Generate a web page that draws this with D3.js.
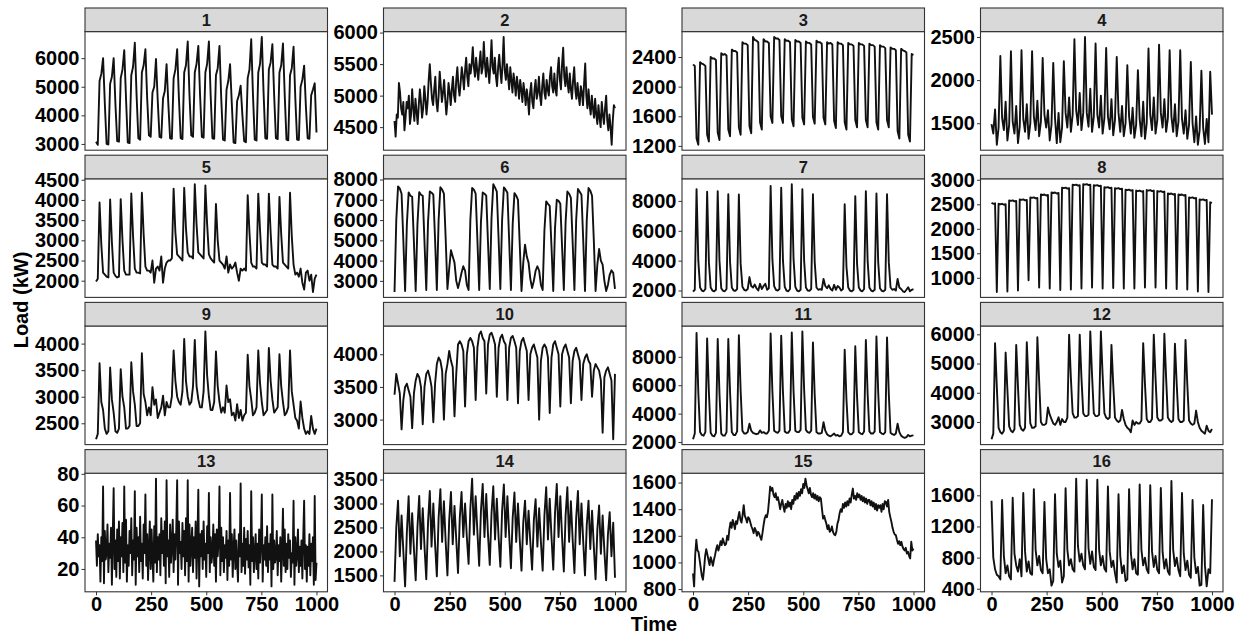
<!DOCTYPE html>
<html>
<head>
<meta charset="utf-8">
<script src="https://cdn.jsdelivr.net/npm/d3@7"></script>
<style>
  body { margin: 0; background: #fff; }
  text { font-family: "Liberation Sans", Arial, sans-serif; }
</style>
</head>
<body>
<svg id="chart" width="1238" height="635"></svg>
<script>
// facet labels and tick labels
const panelIds = ["1", "2", "3", "4", "5", "6", "7", "8", "9", "10", "11", "12", "13", "14", "15", "16"];
const xTicks = [0, 250, 500, 750, 1000];
const yTicks = [
    [3000, 4000, 5000, 6000],
    [4500, 5000, 5500, 6000],
    [1200, 1600, 2000, 2400],
    [1500, 2000, 2500],
    [2000, 2500, 3000, 3500, 4000, 4500],
    [3000, 4000, 5000, 6000, 7000, 8000],
    [2000, 4000, 6000, 8000],
    [1000, 1500, 2000, 2500, 3000],
    [2500, 3000, 3500, 4000],
    [3000, 3500, 4000],
    [2000, 4000, 6000, 8000],
    [3000, 4000, 5000, 6000],
    [20, 40, 60, 80],
    [1500, 2000, 2500, 3000, 3500],
    [800, 1000, 1200, 1400, 1600],
    [400, 800, 1200, 1600]
];

// time between two readings in each series
const sampleStep = [8, 5, 8, 8, 8, 8, 8, 8, 8, 8, 8, 8, 4, 8, 5, 8];

// load readings (kW)
const load1 = [
    3080, 2970, 5200, 5450, 6000, 4400,  3000, 2980, 5100, 5350, 6000, 4400,
    3100, 3080, 5300, 5600, 6280, 4600,  3050, 3030, 5400, 5700, 6540, 4700,
    3200, 3150, 5500, 5750, 6310, 4600,  3300, 3250, 4800, 5000, 5970, 4500,
    3250, 3220, 4600, 4850, 5790, 4400,  3200, 3180, 5300, 5600, 6310, 4600,
    3200, 3170, 5500, 5750, 6580, 4700,  3300, 3250, 5500, 5800, 6430, 4700,
    3250, 3220, 5500, 5800, 6580, 4700,  3200, 3180, 5400, 5650, 6430, 4600,
    3150, 3120, 4900, 5200, 5790, 4400,  3050, 3030, 4500, 4700, 5040, 4000,
    3100, 3060, 5300, 5600, 6660, 4700,  3150, 3120, 5500, 5800, 6740, 4800,
    3200, 3180, 5600, 5850, 6490, 4700,  3200, 3170, 5500, 5750, 6510, 4700,
    3150, 3130, 5400, 5650, 6400, 4600,  3150, 3140, 5000, 5250, 5740, 4300,
    3200, 3180, 4700, 4900, 5120, 3400
];
const load2 = [
    4600, 4350, 4700, 4650, 5200, 5050, 4800, 4700, 4900, 4450,
    4650, 4900, 4800, 5000, 4550, 4700, 5100, 4800, 4600, 4950,
    4750, 4550, 4850, 5100, 4900, 4650, 4800, 5150, 4950, 4700,
    4900, 5250, 5500, 5200, 4950, 4850, 5100, 5300, 4900, 4750,
    5000, 5380, 5150, 4900, 5050, 5250, 4950, 4700, 4900, 5200,
    5050, 4850, 5100, 5300, 5000, 4900, 5250, 5450, 5150, 5000,
    5200, 5450, 5300, 5100, 5400, 5600, 5300, 5150, 5500, 5350,
    5500, 5770, 5450, 5300, 5600, 5400, 5250, 5500, 5700, 5350,
    5450, 5850, 5500, 5300, 5600, 5400, 5200, 5500, 5880, 5450,
    5350, 5600, 5300, 5150, 5450, 5650, 5400, 5200, 5500, 5930,
    5400, 5250, 5500, 5300, 5100, 5450, 5250, 5050, 5350, 5200,
    5000, 5300, 5150, 4950, 5250, 5100, 4900, 5200, 5050, 4850,
    5100, 4950, 4700, 5050, 5200, 4900, 4800, 5100, 5250, 4950,
    5050, 5300, 5000, 4850, 5150, 5350, 5050, 4950, 5250, 5100,
    5000, 5300, 5450, 5150, 5050, 5350, 5100, 5000, 5400, 5600,
    5250, 5100, 5500, 5760, 5300, 5150, 5450, 5200, 5050, 5350,
    5100, 4950, 5250, 5450, 5100, 4950, 5200, 5000, 4850, 5150,
    5050, 4850, 5200, 5510, 5000, 4800, 5100, 4850, 4700, 5000,
    4800, 4650, 4950, 4700, 4550, 4850, 4650, 4500, 4900, 4700,
    4550, 4800, 5000, 4600, 4450, 4700, 4500, 4220, 4600, 4850,
    4800
];
const load3 = [
    2300, 2280, 1300, 1215, 2330, 2310,  2300, 2280, 1350, 1260, 2400, 2380,
    2380, 2360, 1380, 1280, 2450, 2430,  2440, 2420, 1420, 1330, 2500, 2480,
    2480, 2460, 1450, 1350, 2600, 2580,  2580, 2560, 1470, 1370, 2670, 2630,
    2620, 2600, 1520, 1420, 2640, 2610,  2610, 2590, 1600, 1510, 2670, 2650,
    2650, 2630, 1600, 1510, 2640, 2620,  2620, 2600, 1560, 1465, 2630, 2610,
    2610, 2590, 1580, 1490, 2610, 2590,  2590, 2570, 1590, 1500, 2620, 2600,
    2600, 2580, 1580, 1490, 2600, 2580,  2590, 2570, 1540, 1440, 2600, 2580,
    2580, 2560, 1520, 1420, 2590, 2570,  2570, 2550, 1550, 1450, 2590, 2570,
    2570, 2550, 1550, 1450, 2580, 2560,  2560, 2540, 1520, 1420, 2560, 2540,
    2540, 2520, 1550, 1450, 2530, 2510,  2510, 2490, 1400, 1300, 2510, 2490,
    2480, 2460, 1350, 1260, 2440, 2430
];
const load4 = [
    1490, 1380, 1660, 1250, 1450, 2280,  1560, 1420, 1750, 1300, 1480, 2335,
    1520, 1380, 1700, 1270, 1460, 2347,  1550, 1400, 1720, 1320, 1500, 2335,
    1580, 1420, 1760, 1350, 1520, 2258,  1600, 1450, 1650, 1300, 1480, 2200,
    1560, 1270, 1620, 1280, 1450, 2220,  1620, 1450, 1800, 1400, 1600, 2474,
    1650, 1480, 1850, 1420, 1620, 2500,  1620, 1460, 1900, 1400, 1580, 2424,
    1600, 1450, 1820, 1380, 1560, 2374,  1580, 1430, 1780, 1360, 1540, 2270,
    1620, 1400, 1700, 1350, 1500, 2173,  1580, 1380, 1680, 1330, 1480, 2116,
    1550, 1350, 1750, 1320, 1500, 2366,  1600, 1420, 1800, 1380, 1540, 2412,
    1620, 1450, 1780, 1400, 1560, 2347,  1580, 1400, 1720, 1350, 1520, 2347,
    1550, 1380, 1650, 1320, 1480, 2212,  1500, 1280, 1580, 1250, 1420, 2108,
    1450, 1260, 1550, 1280, 2097, 1600
];
const load5 = [
    1980, 2050, 3935, 2900, 2200, 2150,  2100, 2080, 4010, 2950, 2200, 2120,
    2080, 2100, 4020, 3000, 2250, 2150,  2150, 2150, 4160, 3100, 2300, 2200,
    2200, 2180, 4180, 3150, 2350, 2250,  2250, 2200, 2500, 1950, 2300, 2350,
    2250, 2600, 1950, 2300, 2450, 2500,  2500, 2550, 4280, 3200, 2650, 2600,
    2550, 2500, 4300, 3300, 2700, 2600,  2600, 2550, 4390, 3400, 2700, 2650,
    2600, 2550, 4360, 3400, 2650, 2550,  2500, 2450, 3900, 3000, 2500, 2450,
    2400, 2300, 2600, 2200, 2400, 2300,  2350, 2450, 2200, 2000, 2300, 2250,
    2300, 2250, 4115, 3200, 2450, 2350,  2350, 2300, 4157, 3250, 2450, 2400,
    2400, 2350, 4157, 3200, 2400, 2350,  2350, 2300, 4075, 3150, 2450, 2400,
    2350, 2300, 4180, 3100, 2400, 2150,  2200, 2100, 2300, 1950, 1780, 2200,
    2250, 2000, 2150, 1720, 2050, 2150
];
const load6 = [
    2450, 6000, 7660, 7550, 7300, 5000,  2500, 5800, 7360, 7200, 7150, 4900,
    2500, 5800, 7380, 7250, 7200, 4900,  2550, 5900, 7410, 7350, 7250, 5000,
    2550, 6000, 7620, 7500, 7300, 5100,  2600, 3600, 4510, 4200, 3900, 3000,
    2650, 3000, 3400, 3720, 3500, 2800,  2550, 6000, 7580, 7500, 7300, 5000,
    2550, 5900, 7360, 7300, 7200, 4900,  2600, 6100, 7770, 7600, 7400, 5100,
    2600, 6000, 7610, 7500, 7350, 5000,  2550, 5800, 7330, 7200, 7000, 4800,
    2500, 3900, 4790, 4200, 3900, 3100,  2650, 3000, 3500, 3720, 3500, 2800,
    2550, 5500, 6920, 6800, 6700, 4700,  2500, 5600, 7000, 6950, 6800, 4700,
    2550, 5900, 7410, 7300, 7100, 4900,  2550, 6000, 7530, 7400, 7250, 5000,
    2500, 6000, 7580, 7450, 7200, 5000,  2500, 3800, 4570, 4000, 3800, 3000,
    2500, 2800, 3300, 3520, 3400, 2600
];
const load7 = [
    1930, 2050, 8790, 4000, 2200, 2000,  1950, 2100, 8610, 3900, 2200, 2000,
    1950, 2050, 8650, 4000, 2150, 1980,  1950, 2100, 8450, 3900, 2200, 2000,
    1980, 2100, 8430, 3800, 2250, 2050,  2000, 2100, 2900, 2300, 2200, 2400,
    2150, 2000, 2450, 2100, 2300, 2450,  2050, 2150, 9010, 4100, 2300, 2050,
    2000, 2100, 8880, 4000, 2250, 2000,  1950, 2100, 9120, 4100, 2250, 2000,
    1950, 2050, 8790, 4000, 2200, 2000,  1980, 2100, 8450, 3900, 2200, 2050,
    2100, 2050, 2780, 2300, 2150, 2350,  2100, 2000, 2380, 2050, 2300, 2200,
    2000, 2100, 7780, 3600, 2200, 2000,  1950, 2050, 8320, 3800, 2200, 2000,
    1950, 2100, 8650, 4000, 2200, 2000,  1950, 2050, 8500, 3900, 2150, 1980,
    1950, 2050, 8450, 3900, 2200, 2050,  2100, 2000, 2780, 2200, 2100, 1950,
    1900, 2050, 2220, 1950, 2050, 2100
];
const load8 = [
    2530, 2510, 2520, 710, 2510, 2500,  2510, 2490, 2500, 720, 2580, 2570,
    2580, 2560, 2570, 740, 2600, 2590,  2600, 2580, 2590, 950, 2640, 2630,
    2640, 2620, 2630, 800, 2700, 2690,  2700, 2680, 2690, 780, 2740, 2730,
    2740, 2720, 2730, 750, 2840, 2830,  2840, 2820, 2830, 760, 2900, 2890,
    2900, 2880, 2890, 780, 2910, 2900,  2910, 2890, 2900, 800, 2890, 2880,
    2890, 2870, 2880, 780, 2850, 2840,  2850, 2830, 2840, 790, 2830, 2820,
    2830, 2810, 2820, 780, 2800, 2790,  2800, 2780, 2790, 780, 2780, 2770,
    2780, 2760, 2770, 800, 2790, 2780,  2790, 2770, 2780, 800, 2770, 2760,
    2770, 2750, 2760, 780, 2720, 2710,  2720, 2700, 2710, 770, 2700, 2690,
    2700, 2680, 2690, 760, 2640, 2630,  2640, 2620, 2630, 720, 2600, 2590,
    2600, 2580, 2590, 710, 2540, 2530
];
const load9 = [
    2200, 2300, 3630, 2900, 2750, 2400,  2300, 2350, 3550, 2950, 2700, 2350,
    2320, 2400, 3520, 3000, 2800, 2400,  2400, 2450, 3650, 3100, 2850, 2450,
    2450, 2500, 3820, 3050, 2900, 2650,  2800, 2650, 3180, 2850, 2950, 2600,
    2700, 2800, 3020, 2650, 2900, 2800,  2800, 3000, 3870, 3300, 3000, 2900,
    2850, 3100, 4090, 3300, 3000, 2850,  2900, 3200, 4070, 3200, 2950, 2800,
    2800, 3100, 4230, 3400, 3000, 2750,  2750, 2900, 3850, 3200, 2900, 2700,
    2800, 2700, 3210, 2900, 2950, 2650,  2700, 2550, 2860, 2600, 2750, 2550,
    2650, 2700, 3790, 3200, 2950, 2650,  2700, 2800, 3870, 3250, 2900, 2650,
    2700, 2750, 3920, 3300, 2950, 2700,  2750, 2800, 3800, 3200, 2900, 2650,
    2700, 2800, 3870, 3100, 2850, 2600,  2550, 2400, 2910, 2600, 2400, 2300,
    2350, 2300, 2640, 2400, 2300, 2400
];
const load10 = [
    3380, 3700, 3550, 3400, 2850, 3300,  3500, 3550, 3450, 3350, 2870, 3400,
    3600, 3700, 3650, 3500, 2930, 3500,  3700, 3750, 3650, 3500, 2960, 3550,
    3850, 3950, 3900, 3750, 3000, 3700,  3850, 4050, 3900, 3800, 3050, 3700,
    4150, 4200, 4150, 4050, 3200, 4000,  4200, 4250, 4200, 4100, 3300, 4100,
    4300, 4350, 4250, 4200, 3400, 4150,  4300, 4330, 4250, 4150, 3350, 4100,
    4250, 4300, 4200, 4150, 3300, 4100,  4250, 4280, 4200, 4100, 3250, 4050,
    4200, 4250, 4150, 4050, 3300, 4000,  4100, 4150, 4050, 3950, 3000, 3900,
    4100, 4150, 4100, 3950, 3100, 3950,  4150, 4200, 4100, 4000, 3200, 4000,
    4100, 4150, 4050, 3950, 3250, 3900,  4050, 4100, 4000, 3900, 3300, 3850,
    3950, 4000, 3900, 3850, 3350, 3750,  3850, 3800, 3750, 3600, 2800, 3650,
    3750, 3800, 3700, 3600, 2700, 3700
];
const load11 = [
    2200, 2600, 9675, 5500, 2700, 2500,  2450, 2700, 9300, 5500, 2650, 2450,
    2400, 2650, 9250, 5400, 2600, 2450,  2450, 2700, 9250, 5500, 2700, 2500,
    2500, 2750, 9530, 5600, 2800, 2600,  2600, 2700, 3290, 2800, 2650, 2600,
    2550, 2600, 2820, 2650, 2700, 2600,  2600, 2800, 9650, 5600, 2800, 2700,
    2650, 2800, 9490, 5500, 2750, 2650,  2650, 2850, 9720, 5600, 2800, 2700,
    2700, 2850, 9790, 5700, 2850, 2700,  2650, 2800, 9020, 5300, 2700, 2600,
    2600, 2650, 3400, 2800, 2550, 2450,  2400, 2500, 2600, 2450, 2500, 2400,
    2450, 2700, 8500, 5000, 2700, 2550,  2550, 2700, 8740, 5200, 2700, 2600,
    2550, 2750, 9180, 5400, 2750, 2600,  2600, 2750, 9440, 5500, 2700, 2600,
    2550, 2700, 9370, 5400, 2650, 2550,  2500, 2600, 3290, 2700, 2450, 2350,
    2300, 2350, 2500, 2400, 2450, 2470
];
const load12 = [
    2410, 2600, 5700, 4200, 2800, 2650,  2600, 2700, 5375, 4100, 2850, 2700,
    2650, 2750, 5640, 4200, 2900, 2750,  2700, 2800, 5730, 4300, 2950, 2800,
    2800, 2850, 5900, 4400, 3000, 2900,  2900, 2950, 3500, 3250, 3100, 2950,
    2900, 3000, 3160, 2900, 3100, 3000,  3000, 3150, 5990, 4500, 3300, 3150,
    3150, 3200, 5990, 4500, 3300, 3200,  3200, 3250, 6100, 4600, 3300, 3200,
    3200, 3250, 6100, 4600, 3300, 3150,  3100, 3150, 5640, 4300, 3150, 3050,
    3000, 3050, 3415, 3100, 2900, 2800,  2750, 2650, 3050, 2900, 3000, 2950,
    2950, 3050, 5700, 4300, 3100, 3000,  3000, 3100, 5990, 4500, 3150, 3050,
    3050, 3100, 6020, 4500, 3150, 3050,  3000, 3050, 5675, 4300, 3100, 3000,
    3000, 3050, 5810, 4300, 3050, 2950,  2900, 2950, 3390, 3000, 2800, 2700,
    2650, 2600, 2870, 2700, 2650, 2760
];
const load13 = [
    38, 22, 42, 28, 35, 12, 40, 25, 72, 11, 44, 26,
    30, 48, 18, 36, 27, 46, 10, 42, 71, 20, 38, 15,
    45, 25, 50, 14, 40, 28, 49, 18, 72, 24, 51, 12,
    35, 22, 44, 30, 52, 16, 38, 26, 69, 10, 46, 28,
    40, 18, 53, 25, 36, 14, 48, 30, 67, 22, 42, 13,
    33, 50, 20, 45, 28, 12, 47, 24, 77, 18, 40, 26,
    42, 16, 52, 30, 44, 22, 50, 11, 76, 28, 38, 15,
    48, 24, 36, 51, 18, 42, 26, 45, 76, 10, 50, 30,
    37, 20, 49, 28, 44, 16, 52, 25, 76, 12, 48, 22,
    35, 46, 18, 40, 27, 50, 14, 38, 70, 9, 42, 28,
    44, 20, 50, 26, 36, 15, 47, 30, 68, 18, 40, 24,
    30, 48, 22, 42, 12, 45, 28, 38, 72, 16, 46, 25,
    40, 18, 35, 27, 44, 13, 38, 22, 68, 26, 42, 15,
    33, 45, 20, 38, 24, 12, 42, 28, 74, 18, 36, 22,
    46, 17, 39, 26, 44, 21, 35, 10, 69, 25, 40, 18,
    30, 42, 20, 36, 14, 45, 24, 38, 67, 12, 35, 26,
    40, 22, 47, 18, 36, 26, 42, 9, 67, 20, 38, 24,
    28, 44, 16, 35, 25, 40, 12, 33, 58, 22, 45, 18,
    36, 20, 42, 27, 38, 15, 30, 24, 63, 10, 40, 22,
    30, 45, 18, 34, 22, 38, 14, 40, 63, 20, 35, 12,
    34, 22, 42, 16, 36, 25, 40, 10, 66, 13, 24
];
const load14 = [
    1365, 2500, 3060, 1900, 2750, 2000,  1270, 2400, 3150, 1950, 2800, 2050,
    1400, 2500, 3160, 2050, 2900, 2100,  1420, 2600, 3260, 2100, 3000, 2150,
    1480, 2700, 3300, 2200, 3050, 2200,  1500, 2650, 3240, 2150, 2950, 2250,
    1550, 2700, 3240, 2300, 3000, 2300,  1740, 2900, 3520, 2350, 3150, 2400,
    1700, 2850, 3410, 2300, 3200, 2350,  1720, 2800, 3360, 2250, 3100, 2300,
    1680, 2850, 3400, 2300, 3150, 2350,  1650, 2700, 3230, 2200, 3000, 2250,
    1600, 2600, 3060, 2150, 2850, 2200,  1620, 2650, 3090, 2100, 2900, 2200,
    1600, 2750, 3340, 2250, 3100, 2300,  1620, 2800, 3410, 2300, 3150, 2300,
    1580, 2750, 3340, 2200, 3050, 2250,  1550, 2700, 3260, 2150, 3000, 2200,
    1500, 2550, 3060, 2050, 2850, 2100,  1420, 2450, 2960, 1950, 2750, 2000,
    1400, 2350, 2820, 1900, 2600, 1450
];
const load15 = [
    917, 820, 1060, 1170, 1090, 1080, 1020, 960, 900, 870,
    950, 1050, 1100, 1060, 1020, 980, 1040, 1010, 975, 1020,
    1055, 1100, 1130, 1090, 1120, 1160, 1130, 1180, 1150, 1130,
    1140, 1200, 1170, 1250, 1300, 1260, 1320, 1290, 1250, 1310,
    1290, 1340, 1380, 1320, 1300, 1360, 1430, 1350, 1330, 1300,
    1340, 1330, 1300, 1270, 1250, 1220, 1260, 1240, 1200, 1230,
    1217, 1190, 1170, 1220, 1280, 1330, 1355, 1340, 1380, 1470,
    1570, 1540, 1560, 1510, 1490, 1520, 1470, 1490, 1450, 1400,
    1440, 1470, 1420, 1380, 1440, 1410, 1460, 1420, 1450, 1400,
    1470, 1440, 1500, 1470, 1520, 1480, 1530, 1500, 1550, 1520,
    1590, 1560, 1630, 1580, 1550, 1520, 1560, 1510, 1490, 1520,
    1480, 1510, 1470, 1500, 1460, 1490, 1480, 1400, 1330, 1350,
    1318, 1290, 1250, 1280, 1230, 1240, 1270, 1230, 1210, 1205,
    1230, 1290, 1318, 1370, 1400, 1380, 1440, 1410, 1450, 1420,
    1460, 1430, 1480, 1450, 1510, 1555, 1480, 1500, 1470, 1520,
    1490, 1510, 1470, 1500, 1460, 1490, 1450, 1480, 1440, 1470,
    1470, 1430, 1460, 1420, 1450, 1400, 1440, 1390, 1430, 1410,
    1430, 1380, 1440, 1400, 1460, 1455, 1420, 1470, 1380, 1340,
    1305, 1260, 1230, 1210, 1205, 1170, 1140, 1160, 1130, 1155,
    1120, 1100, 1090, 1110, 1067, 1080, 1050, 1030, 1155, 1090,
    1105
];
const load16 = [
    1530, 800, 650, 580, 560, 520,  1540, 820, 600, 700, 560, 520,
    1570, 850, 700, 620, 780, 560,  1630, 880, 620, 750, 600, 580,
    1680, 900, 700, 820, 640, 600,  1515, 780, 600, 650, 440, 500,
    1615, 850, 680, 760, 480, 560,  1690, 900, 700, 780, 650, 620,
    1815, 950, 750, 850, 700, 650,  1800, 920, 720, 880, 680, 640,
    1800, 900, 700, 820, 660, 620,  1715, 880, 680, 760, 600, 480,
    1615, 820, 600, 700, 500, 520,  1680, 860, 650, 780, 600, 580,
    1740, 900, 700, 800, 650, 600,  1730, 880, 680, 820, 640, 600,
    1695, 870, 660, 780, 620, 580,  1785, 900, 690, 800, 640, 560,
    1630, 850, 640, 760, 580, 540,  1540, 800, 600, 680, 440, 450,
    1475, 700, 430, 650, 600, 1550
];

const series = [load1, load2, load3, load4, load5, load6, load7, load8,
    load9, load10, load11, load12, load13, load14, load15, load16];

// layout
const panelLeft = [85, 383.5, 682, 980.5];
const panelW = 242.5;
const rowTop = 8, rowStride = 147.2, stripH = 23.6, panelH = 118.6;

let svg = d3.select('#chart');

series.forEach((vals, i) => {
    let col = i % 4, row = Math.floor(i / 4);
    let left = panelLeft[col];
    let sTop = rowTop + row * rowStride;
    let pTop = sTop + stripH;
    let step = sampleStep[i];

    let ext = d3.extent(vals);
    let pad = (ext[1] - ext[0]) * 0.05;
    let y = d3.scaleLinear()
        .domain([ext[0] - pad, ext[1] + pad])
        .range([pTop + panelH, pTop]);
    let x = d3.scaleLinear()
        .domain([-50, 1050])
        .range([left, left + panelW]);

    let g = svg.append('g');

    g.append('rect')
        .attr('x', left).attr('y', pTop)
        .attr('width', panelW).attr('height', panelH)
        .attr('fill', '#fff');

    let line = d3.line()
        .x((d, k) => x(k * step))
        .y(d => y(d));

    g.append('path')
        .datum(vals)
        .attr('d', line)
        .attr('fill', 'none')
        .attr('stroke', '#111')
        .attr('stroke-width', 1.9)
        .attr('stroke-linejoin', 'round');

    g.append('rect')
        .attr('x', left).attr('y', pTop)
        .attr('width', panelW).attr('height', panelH)
        .attr('fill', 'none')
        .attr('stroke', '#333')
        .attr('stroke-width', 1.1);

    // strip
    g.append('rect')
        .attr('x', left).attr('y', sTop)
        .attr('width', panelW).attr('height', stripH)
        .attr('fill', '#d9d9d9')
        .attr('stroke', '#333')
        .attr('stroke-width', 1.1);
    g.append('text')
        .attr('x', left + panelW / 2)
        .attr('y', sTop + stripH / 2)
        .attr('dy', '0.36em')
        .attr('text-anchor', 'middle')
        .attr('font-size', 16.5)
        .attr('font-weight', 'bold')
        .attr('fill', '#1a1a1a')
        .text(panelIds[i]);

    // y axis
    let ya = g.append('g')
        .attr('transform', 'translate(' + left + ',0)')
        .call(d3.axisLeft(y).tickValues(yTicks[i]).tickSize(3.5).tickPadding(2).tickFormat(d3.format('d')));
    ya.select('.domain').remove();
    ya.selectAll('line').attr('stroke', '#333');
    ya.selectAll('text')
        .attr('font-size', 20)
        .attr('font-weight', 'bold')
        .attr('fill', '#000')
        .attr('font-family', '"Liberation Sans", Arial, sans-serif');

    // x axis only under the bottom row
    if (row == 3) {
        let xa = g.append('g')
            .attr('transform', 'translate(0,' + (pTop + panelH) + ')')
            .call(d3.axisBottom(x).tickValues(xTicks).tickSize(3.5).tickPadding(2).tickFormat(d3.format('d')));
        xa.select('.domain').remove();
        xa.selectAll('line').attr('stroke', '#333');
        xa.selectAll('text')
            .attr('font-size', 20)
            .attr('font-weight', 'bold')
            .attr('fill', '#000')
            .attr('font-family', '"Liberation Sans", Arial, sans-serif');
    }
});

// axis titles
svg.append('text')
    .attr('x', (panelLeft[0] + panelLeft[3] + panelW) / 2)
    .attr('y', 631)
    .attr('text-anchor', 'middle')
    .attr('font-size', 20)
    .attr('font-weight', 'bold')
    .text('Time');

svg.append('text')
    .attr('transform', 'translate(28,300) rotate(-90)')
    .attr('text-anchor', 'middle')
    .attr('font-size', 20)
    .attr('font-weight', 'bold')
    .text('Load (kW)');
</script>
</body>
</html>
